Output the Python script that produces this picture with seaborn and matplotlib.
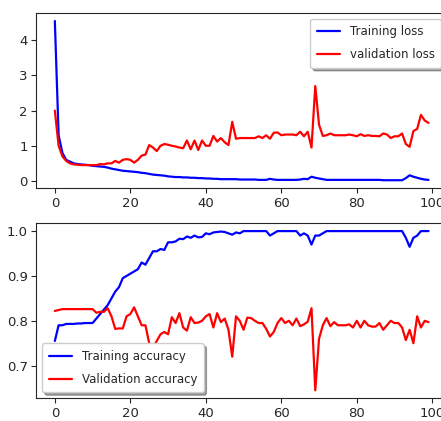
import numpy as np
import pandas as pd
import seaborn as sns
import matplotlib
matplotlib.use("Agg")
import matplotlib.pyplot as plt

epochs = list(range(100))

train_loss = [4.55, 1.30, 0.80, 0.60, 0.55, 0.50, 0.48, 0.47, 0.46, 0.45,
              0.43, 0.42, 0.41, 0.40, 0.38, 0.35, 0.33, 0.31, 0.29, 0.28,
              0.27, 0.26, 0.25, 0.23, 0.22, 0.20, 0.18, 0.17, 0.16, 0.15,
              0.13, 0.12, 0.11, 0.11, 0.10, 0.10, 0.09, 0.09, 0.08, 0.08,
              0.07, 0.07, 0.06, 0.06, 0.05, 0.05, 0.05, 0.05, 0.05, 0.04,
              0.04, 0.04, 0.04, 0.04, 0.03, 0.03, 0.03, 0.06, 0.04, 0.03,
              0.03, 0.03, 0.03, 0.03, 0.03, 0.04, 0.06, 0.05, 0.12, 0.09,
              0.07, 0.05, 0.03, 0.03, 0.03, 0.03, 0.03, 0.03, 0.03, 0.03,
              0.03, 0.03, 0.03, 0.03, 0.03, 0.03, 0.03, 0.02, 0.02, 0.02,
              0.02, 0.02, 0.02, 0.08, 0.16, 0.12, 0.09, 0.06, 0.04, 0.03]

val_loss = [2.00, 1.00, 0.70, 0.57, 0.50, 0.47, 0.46, 0.45, 0.45, 0.45,
            0.45, 0.45, 0.48, 0.47, 0.50, 0.50, 0.57, 0.52, 0.60, 0.62,
            0.60, 0.52, 0.60, 0.72, 0.75, 1.02, 0.95, 0.85, 1.00, 1.05,
            1.03, 1.00, 0.98, 0.95, 0.93, 1.15, 0.90, 1.15, 0.88, 1.15,
            1.00, 1.00, 1.28, 1.12, 1.22, 1.10, 1.02, 1.68, 1.20, 1.22,
            1.22, 1.22, 1.22, 1.22, 1.27, 1.22, 1.30, 1.20, 1.37, 1.38,
            1.30, 1.32, 1.32, 1.32, 1.30, 1.40, 1.27, 1.40, 0.95, 2.70,
            1.60, 1.28, 1.30, 1.35, 1.30, 1.30, 1.30, 1.30, 1.32, 1.30,
            1.27, 1.33, 1.28, 1.30, 1.28, 1.28, 1.27, 1.35, 1.32, 1.22,
            1.27, 1.27, 1.35, 1.05, 0.97, 1.42, 1.48, 1.88, 1.72, 1.65]

train_acc = [0.755, 0.790, 0.790, 0.793, 0.793, 0.793, 0.794, 0.794, 0.795, 0.795,
             0.795, 0.805, 0.815, 0.825, 0.835, 0.850, 0.865, 0.875, 0.895, 0.900,
             0.905, 0.910, 0.915, 0.930, 0.925, 0.940, 0.955, 0.955, 0.960, 0.958,
             0.975, 0.975, 0.977, 0.983, 0.982, 0.988, 0.985, 0.990, 0.986, 0.987,
             0.995, 0.993, 0.997, 0.998, 0.999, 0.998, 0.995, 0.992, 0.997, 0.995,
             1.000, 1.000, 1.000, 1.000, 1.000, 1.000, 1.000, 0.990, 0.995, 1.000,
             1.000, 1.000, 1.000, 1.000, 1.000, 0.990, 0.995, 0.990, 0.970, 0.990,
             0.990, 0.995, 1.000, 1.000, 1.000, 1.000, 1.000, 1.000, 1.000, 1.000,
             1.000, 1.000, 1.000, 1.000, 1.000, 1.000, 1.000, 1.000, 1.000, 1.000,
             1.000, 1.000, 1.000, 0.985, 0.965, 0.985, 0.990, 1.000, 1.000, 1.000]

val_acc = [0.822, 0.824, 0.826, 0.826, 0.826, 0.826, 0.826, 0.826, 0.826, 0.826,
           0.826, 0.818, 0.820, 0.820, 0.828, 0.810, 0.782, 0.783, 0.783, 0.810,
           0.815, 0.830, 0.810, 0.790, 0.790, 0.750, 0.740, 0.755, 0.770, 0.775,
           0.770, 0.808, 0.795, 0.817, 0.785, 0.778, 0.808, 0.795, 0.796, 0.800,
           0.810, 0.815, 0.785, 0.817, 0.797, 0.805, 0.780, 0.720, 0.810, 0.800,
           0.780, 0.807, 0.806, 0.800, 0.795, 0.795, 0.782, 0.765, 0.775, 0.795,
           0.806, 0.795, 0.800, 0.790, 0.805, 0.788, 0.792, 0.798, 0.828, 0.645,
           0.760, 0.790, 0.806, 0.788, 0.797, 0.790, 0.790, 0.790, 0.792, 0.785,
           0.800, 0.785, 0.800, 0.790, 0.787, 0.787, 0.795, 0.780, 0.790, 0.800,
           0.795, 0.795, 0.785, 0.757, 0.780, 0.750, 0.810, 0.785, 0.800, 0.797]

sns.set_style("ticks")
plt.rcParams["font.family"] = ["DejaVu Sans"]

fig = plt.figure(figsize=(4.41, 4.21), dpi=100)
# los ejes se salen un poco por la derecha, como en la imagen original
ax1 = fig.add_axes([0.082, 0.553, 0.932, 0.416])
ax2 = fig.add_axes([0.082, 0.054, 0.932, 0.416])

# perdida
sns.lineplot(x=epochs, y=train_loss, ax=ax1, color="b", linewidth=1.6, label="Training loss")
sns.lineplot(x=epochs, y=val_loss, ax=ax1, color="r", linewidth=1.6, label="validation loss")
ax1.legend(loc="upper right", fontsize=8.5, labelspacing=0.85, borderpad=0.55,
           shadow=True, frameon=True)

# precision
sns.lineplot(x=epochs, y=train_acc, ax=ax2, color="b", linewidth=1.6, label="Training accuracy")
sns.lineplot(x=epochs, y=val_acc, ax=ax2, color="r", linewidth=1.6, label="Validation accuracy")
ax2.legend(loc="lower left", fontsize=8.5, labelspacing=0.85, borderpad=0.55,
           shadow=True, frameon=True)

for ax in (ax1, ax2):
    ax.set_xticks([0, 20, 40, 60, 80, 100])
    ax.tick_params(labelsize=9.5, pad=2.5)
ax1.set_yticks([0, 1, 2, 3, 4])
ax2.set_yticks([0.7, 0.8, 0.9, 1.0])
ax1.set_xlim(-4.95, 103.95)
ax2.set_xlim(-4.95, 103.95)

fig.savefig("out.png", dpi=100)
